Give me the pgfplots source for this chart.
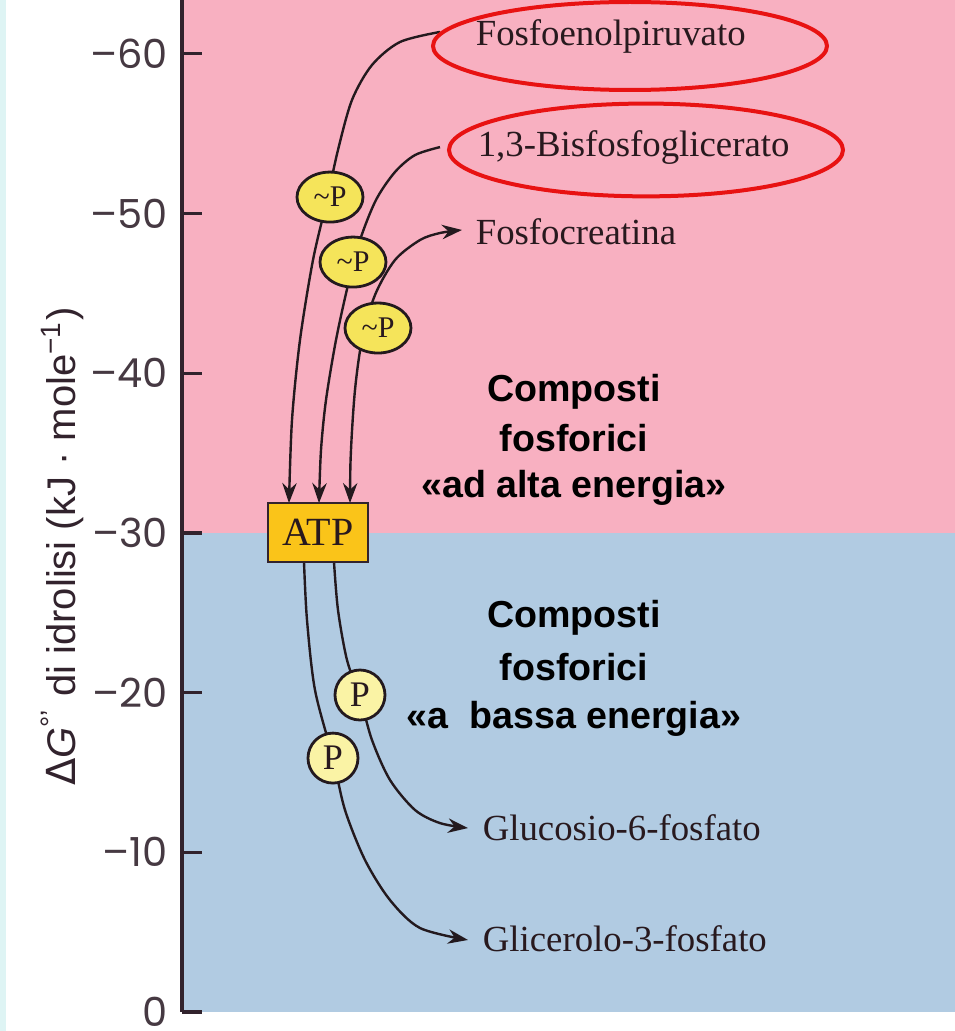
\documentclass[border=0pt]{standalone}
\usepackage{fontspec}
\setmainfont{Liberation Serif}
\setsansfont{Liberation Sans}
\newfontfamily\tickfont{Poppins}
\newfontfamily\dejavu{DejaVu Sans}
\usepackage{pgfplots}
\pgfplotsset{compat=1.18}
\usetikzlibrary{arrows.meta,shapes.geometric}
\definecolor{pinkbg}{RGB}{248,176,193}
\definecolor{bluebg}{RGB}{177,203,226}
\definecolor{stripc}{RGB}{222,244,244}
\definecolor{axiscol}{RGB}{50,35,45}
\definecolor{curvec}{RGB}{35,25,30}
\definecolor{yelP}{RGB}{245,228,90}
\definecolor{lyelP}{RGB}{250,243,165}
\definecolor{atpc}{RGB}{250,196,25}
\definecolor{textc}{RGB}{40,25,30}
\definecolor{redc}{RGB}{232,18,18}
\begin{document}
\begin{tikzpicture}
\begin{axis}[
  scale only axis, width=193.25pt, height=253pt,
  xmin=182, xmax=955, ymin=-63.37, ymax=0, y dir=reverse,
  axis x line=none, axis y line*=left,
  ytick={-60,-50,-40,-30,-20,-10,0},
  yticklabels={–60,–50,–40,–30,–20,–10,0},
  tick align=inside, major tick length=5pt,
  y axis line style={draw=axiscol, line width=0.8pt},
  ytick style={draw=axiscol, line width=0.8pt},
  yticklabel style={font=\tickfont\fontsize{10}{12}\selectfont, text=axiscol!90},
  clip=false, axis on top,
  ylabel={{\dejavu Δ}\textit{G}\textsuperscript{°'} di idrolisi (kJ · mole\textsuperscript{−1})},
  ylabel style={font=\sffamily\fontsize{10}{12}\selectfont, text=axiscol,
    at={(axis description cs:-0.1384,0.46)}, anchor=base},
]
% background bands
\addplot[fill=pinkbg, draw=none] coordinates {(182,-63.37) (955,-63.37) (955,-30) (182,-30)} -- cycle;
\addplot[fill=bluebg, draw=none] coordinates {(182,-30) (955,-30) (955,0) (182,0)} -- cycle;

% curves
\addplot[smooth, curvec, line width=0.6pt, -{Stealth[length=5pt,width=3.6pt]}] coordinates {
 (440,-61.37) (400,-60.74) (372,-59.30) (352,-57.11) (338,-53.98) (327,-50.85) (313,-47.09) (300,-42.08) (292,-37.07) (289,-31.87)};
\addplot[smooth, curvec, line width=0.6pt, -{Stealth[length=5pt,width=3.6pt]}] coordinates {
 (440,-54.16) (415,-53.66) (395,-52.60) (376,-50.85) (360,-48.34) (348,-45.52) (336,-42.08) (326,-38.32) (321,-35.19) (319,-31.87)};
\addplot[smooth, curvec, line width=0.6pt, {Stealth[length=5pt,width=3.6pt]}-{Stealth[length=5pt,width=3.6pt]}] coordinates {
 (350,-31.87) (351,-35.19) (355,-38.95) (362,-42.08) (375,-44.90) (395,-47.09) (420,-48.34) (440,-48.78) (462,-48.97)};
\addplot[smooth, curvec, line width=0.6pt, -{Stealth[length=5pt,width=3.6pt]}] coordinates {
 (334,-28.18) (338,-25.17) (347,-22.04) (360,-19.72) (372,-17.03) (390,-14.53) (415,-12.65) (440,-11.83) (468,-11.52)};
\addplot[smooth, curvec, line width=0.6pt, -{Stealth[length=5pt,width=3.6pt]}] coordinates {
 (304,-28.18) (307,-24.55) (315,-20.16) (333,-15.90) (345,-12.65) (365,-9.52) (390,-7.01) (420,-5.26) (468,-4.51)};

% phosphate tags
\node[ellipse, draw=curvec, fill=yelP, line width=0.7pt, minimum width=16.5pt, minimum height=12.5pt, inner sep=0pt, font=\fontsize{7.5}{9}\selectfont, text=textc] at (axis cs:330,-51.03) {\textasciitilde P};
\node[ellipse, draw=curvec, fill=yelP, line width=0.7pt, minimum width=16.5pt, minimum height=12.5pt, inner sep=0pt, font=\fontsize{7.5}{9}\selectfont, text=textc] at (axis cs:353,-46.96) {\textasciitilde P};
\node[ellipse, draw=curvec, fill=yelP, line width=0.7pt, minimum width=16.5pt, minimum height=12.5pt, inner sep=0pt, font=\fontsize{7.5}{9}\selectfont, text=textc] at (axis cs:378,-42.83) {\textasciitilde P};
\node[circle, draw=curvec, fill=lyelP, line width=0.7pt, minimum size=12.5pt, inner sep=0pt, font=\fontsize{9}{10}\selectfont, text=textc] at (axis cs:360,-19.85) {P};
\node[circle, draw=curvec, fill=lyelP, line width=0.7pt, minimum size=12.5pt, inner sep=0pt, font=\fontsize{9}{10}\selectfont, text=textc] at (axis cs:333,-15.90) {P};

% ATP box
\node[rectangle, draw=axiscol, fill=atpc, line width=0.6pt, minimum width=25pt, minimum height=14.75pt, inner sep=0pt, font=\fontsize{10}{12}\selectfont, text=textc] at (axis cs:318,-30.03) {ATP};

% compound labels
\node[anchor=base west, font=\fontsize{9.2}{11}\selectfont, text=textc, inner sep=0pt] at (axis cs:475,-60.55) {Fosfoenolpiruvato};
\node[anchor=base west, font=\fontsize{9.2}{11}\selectfont, text=textc, inner sep=0pt] at (axis cs:477,-53.54) {1,3-Bisfosfoglicerato};
\node[anchor=base west, font=\fontsize{9.2}{11}\selectfont, text=textc, inner sep=0pt] at (axis cs:475,-48.03) {Fosfocreatina};
\node[anchor=base west, font=\fontsize{9.2}{11}\selectfont, text=textc, inner sep=0pt] at (axis cs:482,-10.77) {Glucosio-6-fosfato};
\node[anchor=base west, font=\fontsize{9.2}{11}\selectfont, text=textc, inner sep=0pt] at (axis cs:482,-3.76) {Glicerolo-3-fosfato};

% highlight ellipses
\draw[redc, line width=1pt] (axis cs:630,-60.49) ellipse [x radius=49.25pt, y radius=11pt];
\draw[redc, line width=1pt] (axis cs:646,-53.98) ellipse [x radius=49.25pt, y radius=11.6pt];

% group labels
\node[anchor=base, font=\sffamily\bfseries\fontsize{9.4}{11}\selectfont, text=black, inner sep=0pt] at (axis cs:574,-38.20) {Composti};
\node[anchor=base, font=\sffamily\bfseries\fontsize{9.4}{11}\selectfont, text=black, inner sep=0pt] at (axis cs:574,-35.07) {fosforici};
\node[anchor=base, font=\sffamily\bfseries\fontsize{9.4}{11}\selectfont, text=black, inner sep=0pt] at (axis cs:574,-32.19) {«ad alta energia»};
\node[anchor=base, font=\sffamily\bfseries\fontsize{9.4}{11}\selectfont, text=black, inner sep=0pt] at (axis cs:574,-24.05) {Composti};
\node[anchor=base, font=\sffamily\bfseries\fontsize{9.4}{11}\selectfont, text=black, inner sep=0pt] at (axis cs:574,-20.79) {fosforici};
\node[anchor=base, font=\sffamily\bfseries\fontsize{9.4}{11}\selectfont, text=black, inner sep=0pt] at (axis cs:574,-17.78) {«a\ \ bassa energia»};
\end{axis}
\fill[stripc] (-45.5pt,-4.75pt) rectangle (-44pt,253pt);
\pgfresetboundingbox
\useasboundingbox (-45.5pt,-4.75pt) rectangle (193.25pt,253pt);
\end{tikzpicture}
\end{document}
